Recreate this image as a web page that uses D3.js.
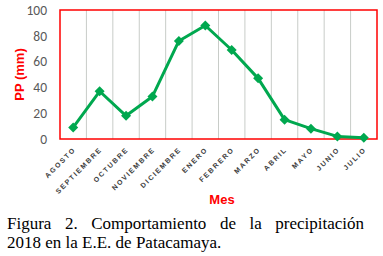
<!DOCTYPE html>
<html>
<head>
<meta charset="utf-8">
<script src="https://cdn.jsdelivr.net/npm/d3@7"></script>
<style>
  body { margin: 0; background: #fff; }
  svg { display: block; }
</style>
</head>
<body>
<div id="chart"></div>
<script>
const months = ["AGOSTO", "SEPTIEMBRE", "OCTUBRE", "NOVIEMBRE", "DICIEMBRE", "ENERO",
  "FEBRERO", "MARZO", "ABRIL", "MAYO", "JUNIO", "JULIO"];
const precip = [9, 37, 18, 33, 76, 88, 69, 47, 15, 8, 2, 1];
const yTicks = [0, 20, 40, 60, 80, 100];
const captionLines = ["Figura 2. Comportamiento de la precipitación", "2018 en la E.E. de Patacamaya."];

const W = 383, H = 256;
const margin = {left: 60, right: 6, top: 10, bottom: 117};
const GREEN = "#00a84f";

const svg = d3.select("#chart").append("svg")
  .attr("width", W).attr("height", H);

const x = d3.scaleBand().domain(months).range([margin.left, W - margin.right]).padding(0);
const y = d3.scaleLinear().domain([0, 100]).range([H - margin.bottom, margin.top]);

// vertical grid lines between categories
svg.append("g")
  .selectAll("line")
  .data(months.slice(1))
  .join("line")
  .attr("x1", d => x(d)).attr("x2", d => x(d))
  .attr("y1", y(100)).attr("y2", y(0))
  .attr("stroke", "#c8ccc8").attr("stroke-width", 1);

// plot frame
svg.append("rect")
  .attr("x", margin.left).attr("y", y(100))
  .attr("width", W - margin.right - margin.left)
  .attr("height", y(0) - y(100))
  .attr("fill", "none").attr("stroke", "#ff0000").attr("stroke-width", 1.5);

// y axis labels
svg.append("g")
  .selectAll("text")
  .data(yTicks)
  .join("text")
  .attr("x", 47).attr("y", d => y(d))
  .attr("dy", "0.35em")
  .attr("text-anchor", "end")
  .style("font-family", "Calibri, Carlito, 'Liberation Sans', sans-serif")
  .style("font-size", "13.5px")
  .style("fill", "#595959")
  .text(d => d);

svg.append("text")
  .attr("transform", `translate(19, ${(y(0) + y(100)) / 2}) rotate(-90)`)
  .attr("text-anchor", "middle")
  .attr("dy", "0.35em")
  .style("font-family", "'Liberation Sans', sans-serif")
  .style("font-size", "13px")
  .style("font-weight", "bold")
  .style("fill", "#ff0000")
  .text("PP (mm)");

// x labels, rotated
svg.append("g")
  .selectAll("text")
  .data(months)
  .join("text")
  .attr("transform", d => `translate(${x(d) + x.bandwidth() / 2 + 3}, ${y(0) + 11}) rotate(-45)`)
  .attr("text-anchor", "end")
  .style("font-family", "'Liberation Sans', sans-serif")
  .style("font-size", "7px")
  .style("font-weight", "bold")
  .style("letter-spacing", "1.7px")
  .style("fill", "#404040")
  .text(d => d);

svg.append("text")
  .attr("x", 222).attr("y", 204)
  .attr("text-anchor", "middle")
  .style("font-family", "'Liberation Sans', sans-serif")
  .style("font-size", "13px")
  .style("font-weight", "bold")
  .style("fill", "#ff0000")
  .text("Mes");

// line + markers
const line = d3.line()
  .x((d, i) => x(months[i]) + x.bandwidth() / 2)
  .y(d => y(d));

svg.append("path")
  .datum(precip)
  .attr("d", line)
  .attr("fill", "none")
  .attr("stroke", GREEN)
  .attr("stroke-width", 3)
  .attr("stroke-linejoin", "round");

svg.append("g")
  .selectAll("path")
  .data(precip)
  .join("path")
  .attr("transform", (d, i) => `translate(${x(months[i]) + x.bandwidth() / 2}, ${y(d)})`)
  .attr("d", "M0,-5L5,0L0,5L-5,0Z")
  .attr("fill", GREEN);

// caption: first line justified, second left
const capX0 = 7, capX1 = 364;
captionLines.forEach((txt, li) => {
  const yy = 229 + li * 19;
  const words = txt.split(" ");
  const g = svg.append("g");
  const nodes = words.map(w => g.append("text")
    .attr("y", yy)
    .style("font-family", "'Times New Roman', 'Liberation Serif', serif")
    .style("font-size", "17px")
    .style("fill", "#000")
    .text(w));
  const widths = nodes.map(n => n.node().getComputedTextLength());
  const total = d3.sum(widths);
  const gap = li === 0 ? (capX1 - capX0 - total) / (words.length - 1) : 4.25;
  let cx = capX0;
  nodes.forEach((n, i) => { n.attr("x", cx); cx += widths[i] + gap; });
});
</script>
</body>
</html>
